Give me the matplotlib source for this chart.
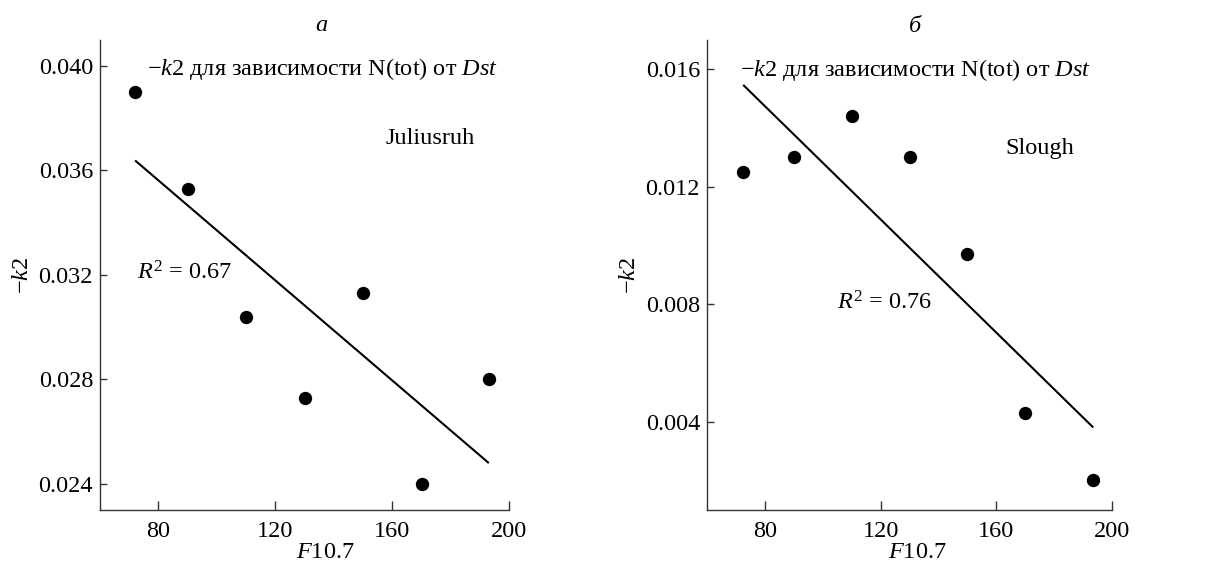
import numpy as np
import matplotlib
matplotlib.use("Agg")
import matplotlib.pyplot as plt

plt.rcParams['font.family'] = ['Liberation Serif', 'DejaVu Serif']
plt.rcParams['mathtext.fontset'] = 'custom'
plt.rcParams['mathtext.rm'] = 'Liberation Serif'
plt.rcParams['mathtext.it'] = 'Liberation Serif:italic'
plt.rcParams['mathtext.bf'] = 'Liberation Serif:bold'

# Data
f107_a = [72, 90, 110, 130, 150, 170, 193]
k2_a = [0.0390, 0.0353, 0.0304, 0.0273, 0.0313, 0.0240, 0.0280]
f107_b = [72.5, 90, 110, 130, 150, 170, 193.5]
k2_b = [0.0125, 0.0130, 0.0144, 0.0130, 0.0097, 0.0043, 0.0020]

xticks = [80, 120, 160, 200]
yticks_a = [0.024, 0.028, 0.032, 0.036, 0.040]
yticks_b = [0.004, 0.008, 0.012, 0.016]

FS = 17.5
fig = plt.figure(figsize=(12.14, 5.68), dpi=100)
ax1 = fig.add_axes([0.0824, 0.1026, 0.3371, 0.827])
ax2 = fig.add_axes([0.5824, 0.1026, 0.3336, 0.827])

def style(ax, ylim, yticks):
    ax.set_xlim(60, 200)
    ax.set_ylim(*ylim)
    ax.set_xticks(xticks)
    ax.set_yticks(yticks)
    ax.set_yticklabels([f"{v:.3f}" for v in yticks])
    for s in ['top', 'right']:
        ax.spines[s].set_visible(False)
    for s in ['left', 'bottom']:
        ax.spines[s].set_linewidth(1.0)
        ax.spines[s].set_color('#333333')
    ax.tick_params(axis='x', direction='in', length=6.5, width=1.0, labelsize=FS, pad=8, color='#333333')
    ax.tick_params(axis='y', direction='in', length=5, width=1.0, labelsize=FS, pad=5, color='#333333')
    ax.set_xlabel(r"$F$10.7", fontsize=FS)
    ax.set_ylabel(r"$-k$2", fontsize=FS, labelpad=4)

def draw(ax, x, y):
    x = np.asarray(x); y = np.asarray(y)
    p = np.polyfit(x, y, 1)
    xx = np.array([x.min(), x.max()])
    ax.plot(xx, np.polyval(p, xx), color='black', lw=1.5, solid_capstyle='butt')
    ax.plot(x, y, 'o', color='black', markersize=9.6, markeredgewidth=0)

style(ax1, (0.023, 0.041), yticks_a)
style(ax2, (0.001, 0.017), yticks_b)
draw(ax1, f107_a, k2_a)
draw(ax2, f107_b, k2_b)

ann = r"$-k$2 для зависимости N(tot) от $Dst$"
ax1.text(75.9, 0.0399, ann, fontsize=FS, ha='left', va='center')
ax2.text(71.5, 0.01599, ann, fontsize=FS, ha='left', va='center')
ax1.text(157.8, 0.03722, "Juliusruh", fontsize=FS, ha='left', va='center')
ax2.text(163.0, 0.01331, "Slough", fontsize=FS, ha='left', va='center')
ax1.text(72.5, 0.03207, r"$R^2$ = 0.67", fontsize=FS, ha='left', va='center')
ax2.text(104.9, 0.00804, r"$R^2$ = 0.76", fontsize=FS, ha='left', va='center')
ax1.text(135.6, 0.04154, "а", fontsize=FS, style='italic', ha='center', va='center', clip_on=False)
ax2.text(132.0, 0.01745, "б", fontsize=FS, style='italic', ha='center', va='center', clip_on=False)

ax1.xaxis.set_label_coords(0.55, -0.092)
ax2.xaxis.set_label_coords(0.52, -0.092)
ax1.xaxis.label.set_verticalalignment('center')
ax2.xaxis.label.set_verticalalignment('center')

fig.savefig("out.png", dpi=100)
